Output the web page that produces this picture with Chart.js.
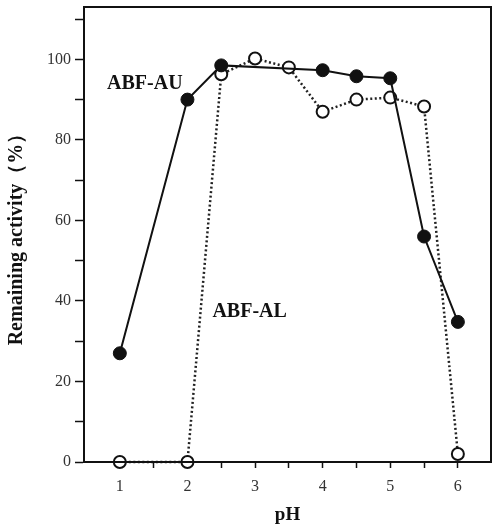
<!DOCTYPE html>
<html>
<head>
<meta charset="utf-8">
<script src="https://cdn.jsdelivr.net/npm/chart.js@4"></script>
<style>
  html, body { margin: 0; padding: 0; background: #fff; }
  #wrap { width: 492px; height: 528px; }
</style>
</head>
<body>
<div id="wrap"><canvas id="chart" width="492" height="528"></canvas></div>
<script>
// pH values and remaining activity (%)
const phAU = [1, 2, 2.5, 4, 4.5, 5, 5.5, 6];
const activityAU = [27, 90, 98.5, 97.3, 95.8, 95.3, 56, 34.8];

const phAL = [1, 2, 2.5, 3, 3.5, 4, 4.5, 5, 5.5, 6];
const activityAL = [0, 0, 96.3, 100.2, 98, 87, 90, 90.5, 88.3, 2];

const xTickValues = [1, 1.5, 2, 2.5, 3, 3.5, 4, 4.5, 5, 5.5, 6];
const xTickLabels = ['1', '', '2', '', '3', '', '4', '', '5', '', '6'];
const yTickValues = [0, 10, 20, 30, 40, 50, 60, 70, 80, 90, 100, 110];
const yTickLabels = ['0', '', '20', '', '40', '', '60', '', '80', '', '100', ''];

const seriesNames = ['ABF-AU', 'ABF-AL'];

function toPoints(xs, ys) {
  return xs.map((x, i) => ({ x: x, y: ys[i] }));
}

// frame around the plot + series labels
const framePlugin = {
  id: 'frame',
  afterDraw(chart) {
    const { ctx, chartArea, scales } = chart;
    ctx.save();
    ctx.strokeStyle = '#111';
    ctx.lineWidth = 2;
    ctx.strokeRect(chartArea.left, chartArea.top, chartArea.right - chartArea.left, chartArea.bottom - chartArea.top);

    ctx.fillStyle = '#111';
    ctx.font = 'bold 20px "Liberation Serif", serif';
    ctx.textAlign = 'center';
    ctx.textBaseline = 'middle';
    ctx.fillText(seriesNames[0], scales.x.getPixelForValue(1.37), scales.y.getPixelForValue(94));
    ctx.fillText(seriesNames[1], scales.x.getPixelForValue(2.92), scales.y.getPixelForValue(37.3));
    ctx.restore();
  }
};

const ctx = document.getElementById('chart').getContext('2d');

new Chart(ctx, {
  type: 'scatter',
  data: {
    datasets: [
      {
        label: seriesNames[0],
        data: toPoints(phAU, activityAU),
        showLine: true,
        borderColor: '#111',
        borderWidth: 2,
        pointRadius: 6.5,
        pointBackgroundColor: '#111',
        pointBorderColor: '#111',
        pointBorderWidth: 1,
        clip: false
      },
      {
        label: seriesNames[1],
        data: toPoints(phAL, activityAL),
        showLine: true,
        borderColor: '#222',
        borderWidth: 2.5,
        borderDash: [2, 2.5],
        pointRadius: 6,
        pointBackgroundColor: '#fff',
        pointBorderColor: '#111',
        pointBorderWidth: 2,
        clip: false
      }
    ]
  },
  options: {
    responsive: false,
    animation: false,
    layout: { autoPadding: false, padding: { top: 7, right: 1, left: 0, bottom: 0 } },
    plugins: {
      legend: { display: false },
      tooltip: { enabled: false }
    },
    scales: {
      x: {
        type: 'linear',
        min: 0.47,
        max: 6.49,
        afterBuildTicks: (scale) => { scale.ticks = xTickValues.map(v => ({ value: v })); },
        afterFit: (scale) => { scale.height = 66; scale.paddingLeft = 0; scale.paddingRight = 0; },
        ticks: {
          callback: (v) => xTickLabels[xTickValues.indexOf(v)] ?? '',
          color: '#333',
          font: { family: '"Liberation Serif", serif', size: 16 },
          padding: 9,
          maxRotation: 0,
          autoSkip: false
        },
        grid: { drawOnChartArea: false, tickLength: 6, tickColor: '#111', tickWidth: 1.5 },
        border: { color: '#111', width: 2 },
        title: {
          display: true,
          text: 'pH',
          color: '#111',
          font: { family: '"Liberation Serif", serif', size: 19, weight: 'bold' },
          padding: { top: 0, bottom: 2 }
        }
      },
      y: {
        min: 0,
        max: 113,
        afterBuildTicks: (scale) => { scale.ticks = yTickValues.map(v => ({ value: v })); },
        afterFit: (scale) => { scale.width = 84; scale.paddingTop = 0; scale.paddingBottom = 0; },
        ticks: {
          callback: (v) => yTickLabels[yTickValues.indexOf(v)] ?? '',
          color: '#333',
          font: { family: '"Liberation Serif", serif', size: 16 },
          padding: 4,
          autoSkip: false
        },
        grid: { drawOnChartArea: false, tickLength: 9, tickColor: '#111', tickWidth: 1.5 },
        border: { color: '#111', width: 2 },
        title: {
          display: true,
          text: 'Remaining activity（%）',
          color: '#111',
          font: { family: '"Liberation Serif", serif', size: 20, weight: 'bold' },
          padding: { top: 5, bottom: 0 }
        }
      }
    }
  },
  plugins: [framePlugin]
});
</script>
</body>
</html>
